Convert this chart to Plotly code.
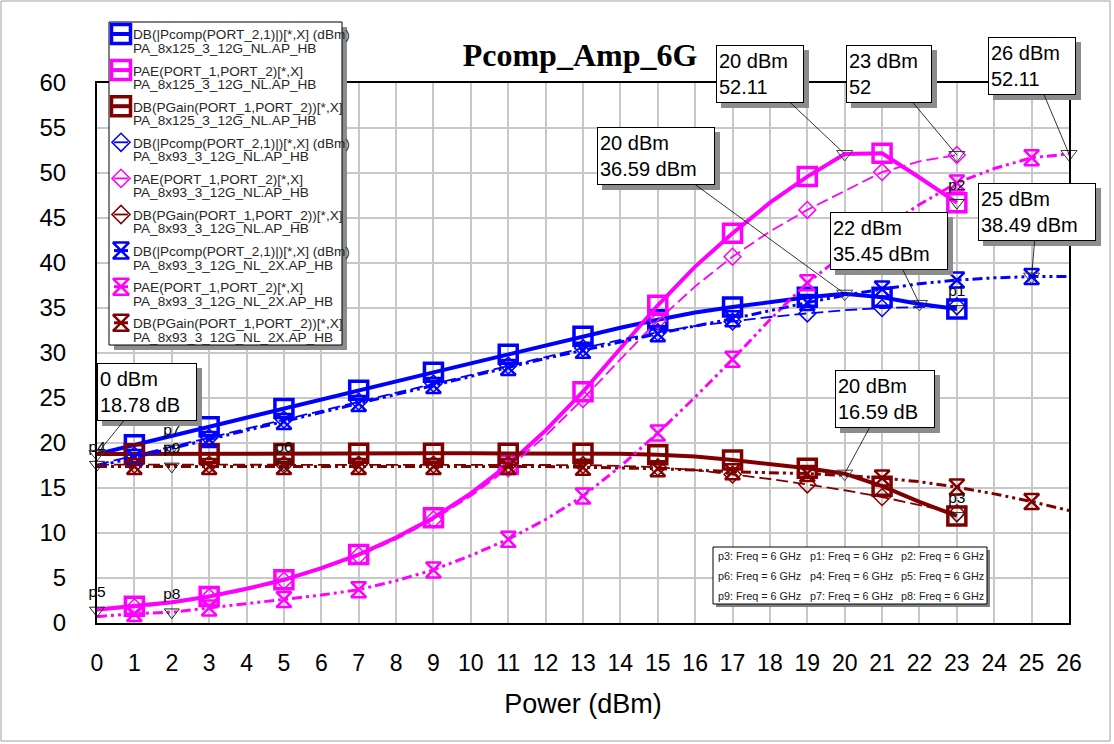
import plotly.graph_objects as go

# ---------------- sweep data (input power in dBm, 6 GHz) ----------------
# 8x125 device, NL model
pin_a = list(range(0, 24))
pcomp_a = [18.78, 19.8, 20.8, 21.8, 22.82, 23.82, 24.85, 25.85, 26.85, 27.85, 28.85, 29.85,
           30.85, 31.85, 32.8, 33.7, 34.5, 35.1, 35.7, 36.2, 36.59, 36.2, 35.45, 34.9]
pae_a = [1.5, 1.85, 2.3, 2.95, 3.8, 4.8, 6.1, 7.6, 9.5, 11.7, 14.4, 17.6,
         21.4, 25.7, 30.5, 35.3, 39.6, 43.3, 46.7, 49.6, 52.11, 52.2, 49.5, 46.7]
gain_a = [18.78, 18.8, 18.8, 18.8, 18.82, 18.82, 18.85, 18.85, 18.85, 18.85, 18.85, 18.85,
          18.85, 18.85, 18.8, 18.7, 18.5, 18.1, 17.7, 17.2, 16.59, 15.2, 13.45, 11.9]

# 8x93 device, NL model
pin_b = list(range(0, 24))
pcomp_b = [17.6, 18.6, 19.6, 20.6, 21.6, 22.6, 23.6, 24.6, 25.6, 26.6, 27.6, 28.6,
           29.6, 30.55, 31.45, 32.3, 33.0, 33.5, 34.0, 34.4, 34.75, 35.0, 35.1, 35.2]
pae_b = [1.4, 1.75, 2.2, 2.85, 3.7, 4.7, 6.0, 7.5, 9.3, 11.5, 14.1, 17.2,
         20.8, 24.9, 29.3, 33.6, 37.4, 40.7, 43.5, 45.9, 48.0, 50.1, 51.3, 52.0]
gain_b = [17.6, 17.6, 17.6, 17.6, 17.6, 17.6, 17.6, 17.6, 17.6, 17.6, 17.6, 17.6,
          17.6, 17.55, 17.45, 17.3, 17.0, 16.5, 16.0, 15.4, 14.75, 14.0, 13.1, 12.2]

# 8x93 device, NL_2X model
pin_c = list(range(0, 27))
pcomp_c = [17.4, 18.4, 19.4, 20.4, 21.4, 22.4, 23.4, 24.4, 25.4, 26.4, 27.4, 28.4, 29.4,
           30.3, 31.25, 32.15, 33.0, 33.8, 34.7, 35.6, 36.4, 37.1, 37.7, 38.1, 38.35, 38.49, 38.5]
pae_c = [0.7, 1.05, 1.2, 1.67, 2.1, 2.6, 3.1, 3.7, 4.7, 5.9, 7.5, 9.3, 11.5,
         14.1, 17.4, 21.1, 25.1, 29.3, 33.7, 37.8, 41.0, 43.8, 46.5, 48.9, 50.5, 51.7, 52.11]
gain_c = [17.4, 17.4, 17.4, 17.4, 17.4, 17.4, 17.4, 17.4, 17.4, 17.4, 17.4, 17.4, 17.4,
          17.3, 17.25, 17.15, 17.0, 16.8, 16.7, 16.6, 16.4, 16.1, 15.7, 15.1, 14.35, 13.49, 12.5]

x_ticks = list(range(0, 27))
y_ticks = list(range(0, 61, 5))

meas_pcomp = "DB(|Pcomp(PORT_2,1)|)[*,X] (dBm)"
meas_pae = "PAE(PORT_1,PORT_2)[*,X]"
meas_gain = "DB(PGain(PORT_1,PORT_2))[*,X]"
doc_a = "PA_8x125_3_12G_NL.AP_HB"
doc_b = "PA_8x93_3_12G_NL.AP_HB"
doc_c = "PA_8x93_3_12G_NL_2X.AP_HB"

# ---------------- geometry helpers ----------------
W, H = 1114, 744
ML, MR, MT, MB = 97, 45, 10, 121          # page margins (paper area)
AX_TOP = 83                                # top edge of the main axes, px
PW = W - ML - MR                           # 972
PAPER_H = H - MT - MB                      # 613
AX_H = H - MB - AX_TOP                     # 540
X0, X1, Y0, Y1 = 0, 26, 0, 60


def dx(px):
    return X0 + (px - ML) / PW * (X1 - X0)


def dy(py):
    return Y0 + (H - MB - py) / AX_H * (Y1 - Y0)


def fx(px):
    return (px - ML) / PW


def fy(py):
    return (H - MB - py) / PAPER_H


SANS = "Arial, Liberation Sans, sans-serif"
BLUE, MAGENTA, MAROON = "#0000ff", "#ff00ff", "#800000"

STYLE = {
    "A": dict(dash="solid", width=4, symbol="square-open", msize=18, mwidth=3.5, seg=9),
    "B": dict(dash="12px,5px", width=1.8, symbol="diamond-open", msize=13, mwidth=1.5, seg=7),
    "C": dict(dash="10px,4px,3px,4px,3px,4px", width=3, symbol="hourglass-open", msize=15, mwidth=2.5, seg=7),
}

series = [
    (meas_pcomp, doc_a, pin_a, pcomp_a, BLUE, "A"),
    (meas_pae, doc_a, pin_a, pae_a, MAGENTA, "A"),
    (meas_gain, doc_a, pin_a, gain_a, MAROON, "A"),
    (meas_pcomp, doc_b, pin_b, pcomp_b, BLUE, "B"),
    (meas_pae, doc_b, pin_b, pae_b, MAGENTA, "B"),
    (meas_gain, doc_b, pin_b, gain_b, MAROON, "B"),
    (meas_pcomp, doc_c, pin_c, pcomp_c, BLUE, "C"),
    (meas_pae, doc_c, pin_c, pae_c, MAGENTA, "C"),
    (meas_gain, doc_c, pin_c, gain_c, MAROON, "C"),
]

fig = go.Figure()

# curves and their symbols (symbols every other sweep point)
for m1, m2, xs, ys, col, st in series:
    s = STYLE[st]
    fig.add_trace(go.Scatter(x=xs, y=ys, mode="lines", name=m1 + " " + m2,
                             line=dict(color=col, width=s["width"], dash=s["dash"]),
                             hoverinfo="skip", cliponaxis=False))
    mx = [x for x in xs if x % 2 == 1]
    my = [y for x, y in zip(xs, ys) if x % 2 == 1]
    fig.add_trace(go.Scatter(x=mx, y=my, mode="markers", hoverinfo="skip", cliponaxis=False,
                             marker=dict(symbol=s["symbol"], size=s["msize"], color=col,
                                         line=dict(width=s["mwidth"]))))

# parameter markers p1..p9
p_marks = [("p1", 23, pcomp_a, pin_a), ("p2", 23, pae_a, pin_a), ("p3", 23, gain_a, pin_a),
           ("p4", 0, pcomp_b, pin_b), ("p5", 0, pae_b, pin_b), ("p6", 5, gain_b, pin_b),
           ("p7", 2, pcomp_c, pin_c), ("p8", 2, pae_c, pin_c), ("p9", 2, gain_c, pin_c)]
fig.add_trace(go.Scatter(
    x=[p[1] for p in p_marks], y=[p[2][p[3].index(p[1])] for p in p_marks],
    text=[p[0] for p in p_marks], mode="markers+text", textposition="top center",
    textfont=dict(family=SANS, size=15.5, color="black"), cliponaxis=False, hoverinfo="skip",
    marker=dict(symbol="triangle-down-open", size=13, color="#202020", line=dict(width=1))))

# readout markers with their text boxes (box centre in px, outer box size)
readouts = [
    (20, pin_a, pae_a, "", (760, 74), (88, 58)),
    (23, pin_b, pae_b, "", (889, 74), (86, 58)),
    (26, pin_c, pae_c, "", (1032, 66), (88, 58)),
    (20, pin_a, pcomp_a, " dBm", (656, 156), (118, 58)),
    (22, pin_a, pcomp_a, " dBm", (889, 241), (118, 58)),
    (25, pin_c, pcomp_c, " dBm", (1037, 212), (118, 58)),
    (20, pin_a, gain_a, " dB", (885, 399), (100, 58)),
    (0, pin_a, gain_a, " dB", (147, 392), (100, 58)),
]
rx = [r[0] for r in readouts]
ry = [r[2][r[1].index(r[0])] for r in readouts]
fig.add_trace(go.Scatter(x=rx, y=ry, mode="markers", cliponaxis=False, hoverinfo="skip",
                         marker=dict(symbol="triangle-down-open", size=14, color="#404040",
                                     line=dict(width=1))))

shapes = []
annotations = []
for (xv, xs, ys, unit, (cx, cy), (bw, bh)), yv in zip(readouts, ry):
    shapes.append(dict(type="rect", xref="paper", yref="paper", layer="above",
                       x0=fx(cx - bw / 2 + 5), x1=fx(cx + bw / 2 + 5),
                       y0=fy(cy + bh / 2 + 5), y1=fy(cy - bh / 2 + 5),
                       fillcolor="#8c8c8c", line=dict(width=0)))
    annotations.append(dict(
        x=xv, y=yv, xref="x", yref="y", ax=dx(cx), ay=dy(cy), axref="x", ayref="y",
        text=f"{xv} dBm<br>{yv:g}{unit}", showarrow=True, arrowhead=0, arrowwidth=0.8,
        arrowcolor="black", standoff=0, bgcolor="white", bordercolor="black", borderwidth=1,
        borderpad=2, width=bw - 6, height=bh - 6, align="left",
        font=dict(family=SANS, size=20, color="black")))

# ---------------- trace legend (drawn on a pixel-scaled overlay subplot) ----------------
LEG = (109, 22, 342, 345)
SH = 5
shapes.append(dict(type="rect", xref="x2", yref="y2", layer="between",
                   x0=LEG[0] + SH, x1=LEG[2] + SH, y0=LEG[1] + SH, y1=LEG[3] + SH,
                   fillcolor="#8c8c8c", line=dict(width=0)))
shapes.append(dict(type="rect", xref="x2", yref="y2", layer="between",
                   x0=LEG[0], x1=LEG[2], y0=LEG[1], y1=LEG[3],
                   fillcolor="white", line=dict(width=1, color="black")))

ROW = 36.1
for i, (m1, m2, xs, ys, col, st) in enumerate(series):
    s = STYLE[st]
    cy = 34 + ROW * i
    fig.add_trace(go.Scatter(x=[121 - s["seg"], 121 + s["seg"]], y=[cy, cy], mode="lines",
                             xaxis="x2", yaxis="y2", hoverinfo="skip",
                             line=dict(color=col, width=s["width"])))
    fig.add_trace(go.Scatter(x=[121], y=[cy], mode="markers", xaxis="x2", yaxis="y2",
                             hoverinfo="skip",
                             marker=dict(symbol=s["symbol"], size=s["msize"] + 1, color=col,
                                         line=dict(width=s["mwidth"]))))
    for j, t in enumerate((m1, m2)):
        annotations.append(dict(x=fx(131), y=fy(35 + ROW * i + 13.4 * j), xref="paper", yref="paper",
                                xanchor="left", yanchor="middle", showarrow=False, text=t,
                                font=dict(family=SANS, size=13.6, color="#262626")))

# ---------------- parameter legend box ----------------
PB = (713, 547, 987, 604)
shapes.append(dict(type="rect", xref="paper", yref="paper", layer="above",
                   x0=fx(PB[0] + 3), x1=fx(PB[2] + 3), y0=fy(PB[3] + 3), y1=fy(PB[1] + 3),
                   fillcolor="#808080", line=dict(width=0)))
shapes.append(dict(type="rect", xref="paper", yref="paper", layer="above",
                   x0=fx(PB[0]), x1=fx(PB[2]), y0=fy(PB[3]), y1=fy(PB[1]),
                   fillcolor="white", line=dict(width=1, color="black")))
p_grid = [["p3", "p1", "p2"], ["p6", "p4", "p5"], ["p9", "p7", "p8"]]
for r, row in enumerate(p_grid):
    for c, name in enumerate(row):
        annotations.append(dict(x=fx(716 + 91.5 * c), y=fy(556 + 20 * r), xref="paper", yref="paper",
                                xanchor="left", yanchor="middle", showarrow=False,
                                text=f"{name}: Freq = 6 GHz",
                                font=dict(family=SANS, size=10.8, color="#202020")))

# outer window frame
shapes.append(dict(type="rect", xref="paper", yref="paper", layer="below",
                   x0=fx(1), x1=fx(1110), y0=fy(741), y1=fy(1),
                   fillcolor="rgba(0,0,0,0)", line=dict(color="#a0a0a0", width=1)))

fig.update_layout(
    width=W, height=H, showlegend=False,
    margin=dict(l=ML, r=MR, t=MT, b=MB, pad=0, autoexpand=False),
    paper_bgcolor="white", plot_bgcolor="rgba(0,0,0,0)",
    title=dict(text="<b>Pcomp_Amp_6G</b>", x=580 / W, xanchor="center", xref="container",
               y=1 - 55 / H, yanchor="middle", yref="container",
               font=dict(family="Liberation Serif, Times New Roman, serif", size=32, color="black")),
    xaxis=dict(range=[X0, X1], tickvals=x_ticks, showgrid=True, gridcolor="#c8c8c8", gridwidth=1.5,
               zeroline=False, showline=True, mirror=True, linecolor="black", linewidth=2, ticks="",
               ticklabelstandoff=18, tickfont=dict(family=SANS, size=23, color="black"),
               title=dict(text="Power (dBm)", font=dict(family=SANS, size=27, color="black"), standoff=20),
               automargin=False, fixedrange=True, anchor="y"),
    yaxis=dict(range=[Y0, Y1], tickvals=y_ticks, showgrid=True, gridcolor="#c8c8c8", gridwidth=1.5,
               zeroline=False, showline=True, mirror=True, linecolor="black", linewidth=2, ticks="",
               ticklabelstandoff=24, tickfont=dict(family=SANS, size=24, color="black"),
               automargin=False, fixedrange=True, domain=[0, AX_H / PAPER_H], anchor="x"),
    xaxis2=dict(range=[ML, ML + PW], domain=[0, 1], anchor="y2", visible=False, fixedrange=True),
    yaxis2=dict(range=[H - MB, MT], domain=[0, 1], anchor="x2", visible=False, fixedrange=True),
    shapes=shapes, annotations=annotations,
)

fig.write_html("out.html")
